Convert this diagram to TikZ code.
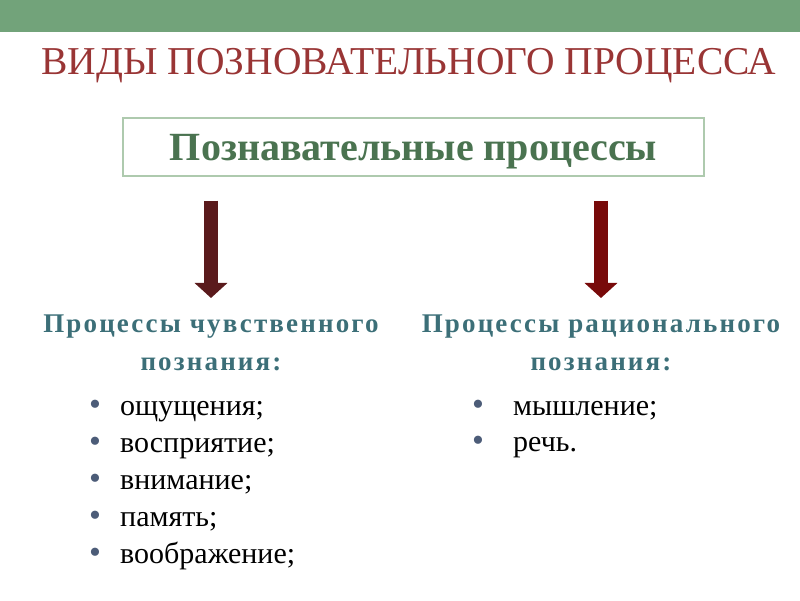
\documentclass[tikz,border=0pt]{standalone}
\usepackage{fontspec}
\setmainfont{Liberation Serif}
\usepackage{tikz}
\usetikzlibrary{arrows.meta}

\definecolor{bandgreen}{HTML}{72A37A}
\definecolor{titlered}{HTML}{993535}
\definecolor{boxline}{HTML}{AECAAE}
\definecolor{boxtext}{HTML}{4A7350}
\definecolor{headteal}{HTML}{3C6F78}
\definecolor{arrowleft}{HTML}{5A1A1C}
\definecolor{arrowright}{HTML}{780A0A}
\definecolor{dotgray}{HTML}{4C5C78}

\begin{document}
\begin{tikzpicture}
            [
                x=1pt, y=1pt,
                heading/.style={font=\fontsize{27}{38}\selectfont\bfseries\addfontfeature{LetterSpace=8},
                    text=headteal, align=center, inner sep=0pt},
                item/.style={font=\fontsize{30}{36}\selectfont, anchor=base west, inner sep=0pt},
                dot/.style={font=\fontsize{34}{34}\selectfont, text=dotgray, anchor=base, inner sep=0pt},
                bigarrow/.style={line width=14pt, -{Triangle[width=32pt, length=15pt]},
                    shorten <=24pt, shorten >=17pt}
            ]
            \useasboundingbox (0,0) rectangle (800,600);
            \fill[bandgreen] (0,568) rectangle (800,600);
            \node[anchor=base, inner sep=0pt, text=titlered, font=\fontsize{39.5}{40}\selectfont]
                (title) at (409,525) {ВИДЫ ПОЗНОВАТЕЛЬНОГО ПРОЦЕССА};
            \node[draw=boxline, line width=1.5pt, minimum width=581pt, minimum height=58pt,
                text=boxtext, font=\fontsize{40}{40}\selectfont\bfseries,
                text height=28pt, text depth=0pt] (box) at (413.5,453) {Познавательные процессы};

            \node[heading, anchor=north] (sens) at (211,285) {Процессы чувственного\\познания:};
            \node[heading, anchor=north] (rat) at (601,285) {Процессы рационального\\познания:};

            \draw[bigarrow, arrowleft] (box.south -| sens.north) -- (sens.north);
            \draw[bigarrow, arrowright] (box.south -| rat.north) -- (rat.north);

            % sensory items
            \foreach \txt [count=\i] in {ощущения;, восприятие;, внимание;, память;, воображение;} {
                \node[dot] (sd\i) at (95,{185-(\i-1)*37}) {•};
                \node[item] (s\i) at (120,{185-(\i-1)*37}) {\txt};
            }
            % rational items
            \foreach \txt [count=\i] in {мышление;, речь.} {
                \node[dot] (rd\i) at (478,{184-(\i-1)*35}) {•};
                \node[item] (r\i) at (513,{184-(\i-1)*35}) {\txt};
            }
        \end{tikzpicture}
\end{document}
